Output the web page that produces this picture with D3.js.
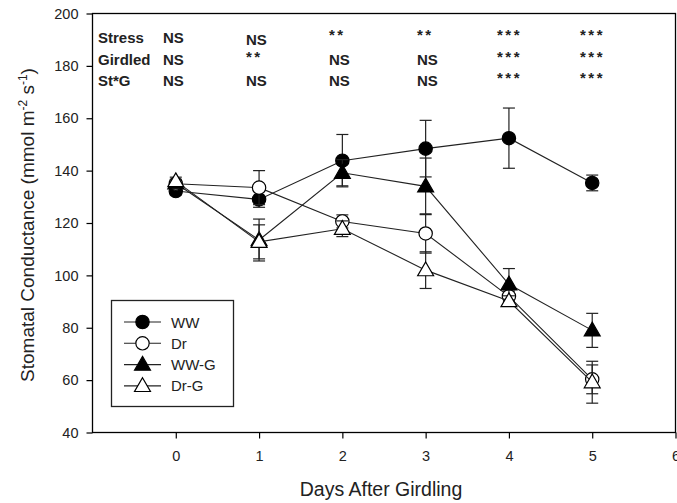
<!DOCTYPE html>
<html><head><meta charset="utf-8">
<script src="https://cdn.jsdelivr.net/npm/d3@7"></script>
<style>body{margin:0;background:#fff}svg{display:block}text{font-family:Arial,"Liberation Sans",sans-serif}</style>
</head><body>
<script>
const days = [0,1,2,3,4,5];
const seriesNames = ["WW","Dr","WW-G","Dr-G"];
const wwMean  = [132.2,129.0,143.8,148.4,152.4,135.3];
const wwErr   = [1.5,3.0,10.0,10.8,11.5,3.0];
const drMean  = [135.0,133.5,120.6,116.0,92.0,60.3];
const drErr   = [1.5,6.5,2.5,7.5,2.0,5.5];
const wwgMean = [135.2,113.5,139.2,134.0,96.6,79.0];
const wwgErr  = [1.5,8.0,5.0,10.8,6.0,6.5];
const drgMean = [136.0,112.8,117.8,102.0,90.2,59.2];
const drgErr  = [1.5,6.5,3.0,7.0,2.0,8.0];
const xTicks = [0,1,2,3,4,5,6];
const yTicks = [40,60,80,100,120,140,160,180,200];
const statRows = ["Stress","Girdled","St*G"];
const statStress  = ["NS","NS","**","**","***","***"];
const statGirdled = ["NS","**","NS","NS","***","***"];
const statStG     = ["NS","NS","NS","NS","***","***"];

const W=677,H=503;
const svg=d3.select("body").append("svg").attr("width",W).attr("height",H);
const x=d3.scaleLinear().domain([-1,6]).range([92.5,675.5]);
const y=d3.scaleLinear().domain([40,200]).range([432.5,13.5]);

// frame
svg.append("rect").attr("x",x(-1)).attr("y",y(200)).attr("width",x(6)-x(-1)).attr("height",y(40)-y(200))
  .attr("fill","none").attr("stroke","#000").attr("stroke-width",1.3);

const xAxis=svg.append("g").attr("transform",`translate(0,${y(40)})`)
  .call(d3.axisBottom(x).tickValues(xTicks).tickSize(6).tickPadding(12).tickFormat(d3.format("d")));
const yAxis=svg.append("g").attr("transform",`translate(${x(-1)},0)`)
  .call(d3.axisLeft(y).tickValues(yTicks).tickSize(6).tickPadding(8));
[xAxis,yAxis].forEach(g=>{
  g.select(".domain").remove();
  g.selectAll("line").attr("stroke","#000").attr("stroke-width",1.2);
  g.selectAll("text").attr("font-size",14.5).attr("fill","#222").attr("font-family","Arial, 'Liberation Sans', sans-serif");
});

// axis titles
svg.append("text").attr("x",381).attr("y",496).attr("text-anchor","middle").attr("font-size",19.5).attr("fill","#222").text("Days After Girdling");
const yt=svg.append("text").attr("transform",`translate(34,225) rotate(-90)`).attr("text-anchor","middle").attr("font-size",19).attr("fill","#222");
yt.append("tspan").text("Stomatal Conductance (mmol m");
yt.append("tspan").attr("baseline-shift","super").attr("font-size",12).text("-2");
yt.append("tspan").text(" s");
yt.append("tspan").attr("baseline-shift","super").attr("font-size",12).text("-1");
yt.append("tspan").text(")");

// series
const series=[
  {name:seriesNames[0],mean:wwMean,err:wwErr,shape:"circle",fill:"#000"},
  {name:seriesNames[1],mean:drMean,err:drErr,shape:"circle",fill:"#fff"},
  {name:seriesNames[2],mean:wwgMean,err:wwgErr,shape:"triangle",fill:"#000"},
  {name:seriesNames[3],mean:drgMean,err:drgErr,shape:"triangle",fill:"#fff"}
];
const symCircle=d3.symbol().type(d3.symbolCircle).size(140);
const symTri=d3.symbol().type(d3.symbolTriangle).size(110);
const line=d3.line().x(d=>x(d.day)).y(d=>y(d.v));

series.forEach(s=>{
  const pts=days.map((d,i)=>({day:d,v:s.mean[i],e:s.err[i]}));
  const g=svg.append("g");
  pts.forEach(p=>{
    g.append("line").attr("x1",x(p.day)).attr("x2",x(p.day)).attr("y1",y(p.v+p.e)).attr("y2",y(p.v-p.e)).attr("stroke","#222").attr("stroke-width",1.2);
    [p.v+p.e,p.v-p.e].forEach(v=>g.append("line").attr("x1",x(p.day)-6).attr("x2",x(p.day)+6).attr("y1",y(v)).attr("y2",y(v)).attr("stroke","#222").attr("stroke-width",1.2));
  });
  g.append("path").datum(pts).attr("d",line).attr("fill","none").attr("stroke","#222").attr("stroke-width",1.1);
  pts.forEach(p=>{
    g.append("path").attr("d",s.shape==="circle"?symCircle():symTri())
      .attr("transform",`translate(${x(p.day)},${y(p.v)+(s.shape==="triangle"?1:0)})`)
      .attr("fill",s.fill).attr("stroke","#000").attr("stroke-width",1.2);
  });
});

// legend
const lg=svg.append("g");
lg.append("rect").attr("x",111.5).attr("y",300.5).attr("width",122).attr("height",106).attr("fill","#fff").attr("stroke","#222").attr("stroke-width",1.3);
series.forEach((s,i)=>{
  const ly=322+i*21.3;
  lg.append("line").attr("x1",124).attr("x2",161).attr("y1",ly).attr("y2",ly).attr("stroke","#222").attr("stroke-width",1.1);
  lg.append("path").attr("d",s.shape==="circle"?symCircle():symTri()).attr("transform",`translate(142.5,${ly+(s.shape==="triangle"?1:0)})`)
    .attr("fill",s.fill).attr("stroke","#000").attr("stroke-width",1.2);
  lg.append("text").attr("x",171).attr("y",ly+5.5).attr("font-size",15).attr("fill","#222").text(s.name);
});

// stats table
const statData=[statStress,statGirdled,statStG];
const rowY=[43,65,86];
const colX=[163,246,329,417,497,580];
statRows.forEach((r,ri)=>{
  svg.append("text").attr("x",98).attr("y",rowY[ri]).attr("font-size",15).attr("font-weight","bold").attr("fill","#222").text(r);
  statData[ri].forEach((t,ci)=>{
    const star=t.indexOf("*")>=0;
    svg.append("text").attr("x",colX[ci]).attr("y",rowY[ri]+(star?-3:(ri===0&&ci===1?2:0)))
      .attr("font-size",15).attr("font-weight","bold").attr("letter-spacing",star?2.5:0).attr("fill","#222").text(t);
  });
});
</script>
</body></html>
